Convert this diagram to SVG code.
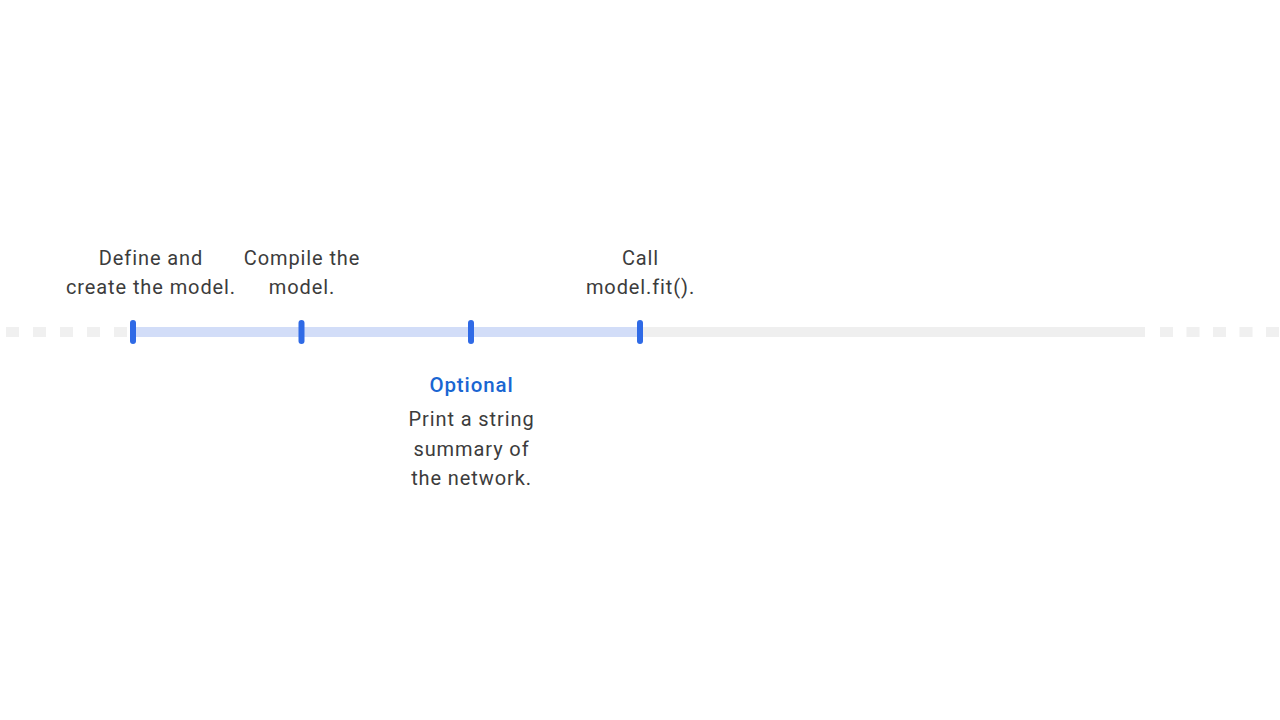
<svg xmlns="http://www.w3.org/2000/svg" width="1280" height="720" viewBox="0 0 1280 720">
<style>
.lbl{font-family:Roboto,"Liberation Sans",sans-serif;font-size:20px;letter-spacing:0.9px;fill:#3c3c3c;text-anchor:middle}
.opt{font-family:Roboto,"Liberation Sans",sans-serif;font-size:20.5px;letter-spacing:0.9px;font-weight:500;fill:#1a66d2;text-anchor:middle}
.tick{fill:#2f6ae6}
</style>
<rect width="1280" height="720" fill="#ffffff"/>
<g id="connectors">
<line x1="6" y1="332" x2="128" y2="332" stroke="#f0f0f0" stroke-width="10" stroke-dasharray="13 14"/>
<rect x="133" y="327" width="507" height="10" fill="#d2ddf8"/>
<rect x="640" y="327" width="505" height="10" fill="#efefef"/>
<line x1="1160" y1="332" x2="1280" y2="332" stroke="#f0f0f0" stroke-width="10" stroke-dasharray="13 13.5"/>
</g>
<g id="step1">
<rect class="tick" x="130" y="320" width="6" height="24" rx="3"/>
<text class="lbl" x="151" y="264.5">Define and</text>
<text class="lbl" x="151" y="293.5">create the model.</text>
</g>
<g id="step2">
<rect class="tick" x="298.5" y="320" width="6" height="24" rx="3"/>
<text class="lbl" x="302" y="264.5">Compile the</text>
<text class="lbl" x="302" y="293.5">model.</text>
</g>
<g id="step3">
<rect class="tick" x="468" y="320" width="6" height="24" rx="3"/>
<text class="opt" x="471.5" y="392">Optional</text>
<text class="lbl" x="471.5" y="426">Print a string</text>
<text class="lbl" x="471.5" y="455.5">summary of</text>
<text class="lbl" x="471.5" y="485">the network.</text>
</g>
<g id="step4">
<rect class="tick" x="637" y="320" width="6" height="24" rx="3"/>
<text class="lbl" x="640.5" y="264.5">Call</text>
<text class="lbl" x="640.5" y="293.5">model.fit().</text>
</g>
</svg>
